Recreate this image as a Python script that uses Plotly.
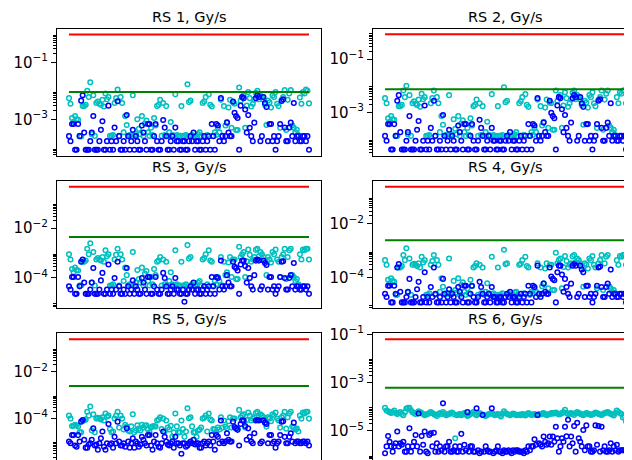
import plotly.graph_objects as go

idx = list(range(80))                      # sample index
idx_mid = [i + 0.5 for i in range(79)]     # in-between samples

rs1_cyan = [5.5e-3, 1.1e-3, 1.3e-3, 9.5e-4, 2.5e-4, 2.9e-3, 1e-2, 2e-2, 7e-3, 3.7e-3,
            3.5e-3, 4.8e-3, 8e-3, 6e-3, 2.6e-4, 3.7e-3, 1.1e-2, 6e-3, 3.5e-4, 6.3e-4,
            2.8e-4, 7e-3, 3e-4, 4.6e-4, 1.3e-3, 7e-4, 3.5e-4, 5e-4, 1.1e-3, 2.9e-3,
            4.8e-3, 3.7e-3, 2.9e-3, 3.5e-4, 2.8e-4, 7.5e-3, 2.6e-4, 2.9e-3, 2.6e-4, 1.7e-2,
            4.5e-3, 2.6e-4, 2.5e-4, 3.5e-4, 3.7e-3, 6e-3, 7.5e-3, 2.8e-3, 3.5e-4, 5e-4,
            4.8e-3, 2.9e-3, 8e-4, 4.8e-3, 3.9e-3, 4.2e-4, 1.3e-2, 6e-3, 5e-4, 9e-3,
            2.8e-3, 4.8e-3, 1e-2, 6.8e-3, 4.8e-3, 6.3e-4, 3.9e-3, 6.8e-3, 9e-3, 2.9e-3,
            4.8e-3, 1.05e-2, 4.8e-3, 1.05e-2, 5e-4, 4.3e-4, 5.8e-3, 9e-3, 1.1e-2, 3.6e-3]
rs1_cyan_mid = [3.5e-3, 8e-4, 1e-3, 2.6e-4, 2.9e-3, 3.2e-3, 6e-3, 3e-4, 2.6e-4, 4.2e-3,
                3.2e-3, 2.8e-3, 5e-3, 2.6e-4, 2.8e-4, 5.5e-3, 2.6e-4, 3.7e-3, 1.3e-3, 2.6e-4,
                2.8e-4, 2.6e-4, 1e-3, 3e-4, 2.6e-4, 9e-4, 2.6e-4, 2.8e-4, 6e-4, 3.2e-3,
                2.6e-4, 2.8e-4, 2.6e-4, 8e-4, 2.6e-4, 2.8e-4, 2.6e-4, 2.6e-4, 2.8e-4, 4e-3,
                2.8e-4, 2.6e-4, 3e-4, 2.6e-4, 4.2e-3, 2.8e-4, 3.2e-3, 2.6e-4, 2.8e-4, 3.5e-4,
                2.6e-4, 6e-4, 2.6e-3, 5e-4, 3.5e-3, 4.2e-4, 4.5e-3, 7e-3, 3e-3, 5.5e-3,
                3.5e-3, 8.5e-3, 5e-3, 6e-3, 3.2e-3, 4.5e-3, 2.6e-3, 6e-3, 3.5e-3, 5e-4,
                6e-3, 4.2e-4, 8e-3, 6e-4, 3.5e-4, 2.8e-4, 3.5e-3, 8e-3, 1e-2]
rs1_blue = [2.55e-4, 6.8e-4, 8.5e-5, 6.8e-4, 4.5e-3, 3.4e-4, 8.5e-5, 1.7e-4, 1.3e-3, 8.5e-5,
            1.7e-4, 8.5e-4, 8.5e-5, 3e-3, 1.7e-4, 5.1e-4, 4.3e-3, 8.5e-5, 1.7e-4, 1.4e-3,
            8.5e-5, 4.25e-4, 2.55e-4, 8.5e-5, 6e-4, 1.7e-4, 6.8e-4, 8.5e-5, 2.55e-4, 1.7e-4,
            8.5e-5, 9.4e-4, 2.55e-4, 8.5e-5, 2.55e-4, 5.1e-4, 1.7e-4, 8.5e-5, 1.7e-4, 8.5e-5,
            2.55e-4, 3.4e-4, 1.7e-4, 8.5e-5, 1.7e-4, 8.5e-5, 2.55e-4, 6.8e-4, 8.5e-5, 6e-4,
            5.5e-3, 1.7e-4, 7.6e-4, 2.55e-4, 4.2e-3, 1.3e-3, 8.5e-5, 6e-3, 2.2e-3, 1.4e-3,
            2.55e-4, 7.6e-4, 7e-3, 1.7e-4, 6e-3, 2.7e-3, 6.8e-4, 1.7e-4, 8.5e-5, 2.55e-4,
            4.4e-3, 5.1e-4, 1.7e-4, 7.6e-4, 3.7e-3, 2.55e-4, 1.7e-4, 2.55e-4, 1.7e-4, 8.5e-5]
rs1_blue_mid = [1.7e-4, 6.8e-4, 8.5e-5, 2.55e-4, 7e-3, 8.5e-5, 8.5e-5, 3.4e-4, 8.5e-5, 8.5e-5,
                4.25e-4, 8.5e-5, 1.7e-4, 8.5e-5, 8.5e-5, 1.7e-4, 2.55e-4, 8.5e-5, 8.5e-5, 2.55e-4,
                1.7e-4, 8.5e-5, 1.7e-4, 8.5e-5, 3.4e-4, 8.5e-5, 6.8e-4, 8.5e-5, 6.8e-4, 8.5e-5,
                1.7e-4, 5.1e-4, 8.5e-5, 1.7e-4, 8.5e-5, 1.7e-4, 8.5e-5, 1.7e-4, 8.5e-5, 1.7e-4,
                1.7e-4, 8.5e-5, 1.7e-4, 8.5e-5, 2.55e-4, 1.7e-4, 8.5e-5, 2.55e-4, 6.8e-4, 1.7e-4,
                2.55e-4, 2.55e-4, 3.4e-4, 2.55e-4, 1.7e-3, 1.1e-3, 3e-3, 5.5e-3, 3.4e-4, 5e-4,
                1.7e-4, 5.5e-3, 6e-3, 2.55e-4, 3.7e-3, 1.7e-4, 6.8e-4, 2.55e-4, 1.7e-4, 6.8e-4,
                5e-3, 1.7e-4, 5.1e-4, 2.55e-4, 1.7e-4, 2.55e-4, 1.7e-4, 2.55e-4, 2.55e-4]

rs2_cyan = [3.4e-3, 6e-4, 7.2e-4, 5.2e-4, 1.3e-4, 1.7e-3, 6.6e-3, 1e-2, 4.4e-3, 2.2e-3,
            2.1e-3, 3e-3, 5e-3, 3.7e-3, 1.3e-4, 2.2e-3, 6.6e-3, 3.7e-3, 1.8e-4, 3.4e-4,
            1.4e-4, 4.4e-3, 1.5e-4, 2.4e-4, 7.2e-4, 3.8e-4, 1.8e-4, 2.6e-4, 6e-4, 1.7e-3,
            3e-3, 2.2e-3, 1.7e-3, 1.8e-4, 1.4e-4, 4.8e-3, 1.3e-4, 1.7e-3, 1.3e-4, 8.7e-3,
            2.7e-3, 1.3e-4, 1.3e-4, 1.8e-4, 2.2e-3, 3.7e-3, 4.8e-3, 1.6e-3, 1.8e-4, 2.6e-4,
            3e-3, 1.7e-3, 4.4e-4, 3e-3, 2.3e-3, 2.2e-4, 6.6e-3, 3.7e-3, 2.6e-4, 5.7e-3,
            1.6e-3, 3e-3, 6.6e-3, 4.4e-3, 3e-3, 3.4e-4, 2.3e-3, 4.4e-3, 5.7e-3, 1.7e-3,
            3e-3, 6.6e-3, 3e-3, 6.6e-3, 2.6e-4, 2.2e-4, 3.7e-3, 5.7e-3, 6.6e-3, 2.2e-3]
rs2_cyan_mid = [2.2e-3, 4.4e-4, 5.5e-4, 1.3e-4, 1.7e-3, 1.9e-3, 3.7e-3, 1.5e-4, 1.3e-4, 2.6e-3,
                1.9e-3, 1.6e-3, 3.1e-3, 1.3e-4, 1.4e-4, 3.4e-3, 1.3e-4, 2.2e-3, 7.2e-4, 1.3e-4,
                1.4e-4, 1.3e-4, 5.5e-4, 1.5e-4, 1.3e-4, 5e-4, 1.3e-4, 1.4e-4, 3.2e-4, 1.9e-3,
                1.3e-4, 1.4e-4, 1.3e-4, 4.4e-4, 1.3e-4, 1.4e-4, 1.3e-4, 1.3e-4, 1.4e-4, 2.4e-3,
                1.4e-4, 1.3e-4, 1.5e-4, 1.3e-4, 2.6e-3, 1.4e-4, 1.9e-3, 1.3e-4, 1.4e-4, 1.8e-4,
                1.3e-4, 3.2e-4, 1.5e-3, 2.6e-4, 2.2e-3, 2.2e-4, 2.7e-3, 4.4e-3, 1.8e-3, 3.4e-3,
                2.2e-3, 5.4e-3, 3.1e-3, 3.7e-3, 1.9e-3, 2.7e-3, 1.5e-3, 3.7e-3, 2.2e-3, 2.6e-4,
                3.7e-3, 2.2e-4, 5e-3, 3.2e-4, 1.8e-4, 1.4e-4, 2.2e-3, 5e-3, 6.6e-3]
rs2_blue = [1.3e-4, 3.6e-4, 4e-5, 3.6e-4, 2.7e-3, 1.8e-4, 4e-5, 8.5e-5, 7.2e-4, 4e-5,
            8.5e-5, 4.7e-4, 4e-5, 1.8e-3, 8.5e-5, 2.6e-4, 2.7e-3, 4e-5, 8.5e-5, 7.9e-4,
            4e-5, 2.2e-4, 1.3e-4, 4e-5, 3.2e-4, 8.5e-5, 3.6e-4, 4e-5, 1.3e-4, 8.5e-5,
            4e-5, 5.2e-4, 1.3e-4, 4e-5, 1.3e-4, 2.6e-4, 8.5e-5, 4e-5, 8.5e-5, 4e-5,
            1.3e-4, 1.8e-4, 8.5e-5, 4e-5, 8.5e-5, 4e-5, 1.3e-4, 3.6e-4, 4e-5, 3.2e-4,
            3.4e-3, 8.5e-5, 4.1e-4, 1.3e-4, 2.7e-3, 7.2e-4, 4e-5, 3.7e-3, 1.3e-3, 7.9e-4,
            1.3e-4, 4.1e-4, 4.4e-3, 8.5e-5, 3.7e-3, 1.6e-3, 3.6e-4, 8.5e-5, 4e-5, 1.3e-4,
            2.7e-3, 2.6e-4, 8.5e-5, 4.1e-4, 2.2e-3, 1.3e-4, 8.5e-5, 1.3e-4, 8.5e-5, 4e-5]
rs2_blue_mid = [8.5e-5, 3.6e-4, 4e-5, 1.3e-4, 4.4e-3, 4e-5, 4e-5, 1.8e-4, 4e-5, 4e-5,
                2.2e-4, 4e-5, 8.5e-5, 4e-5, 4e-5, 8.5e-5, 1.3e-4, 4e-5, 4e-5, 1.3e-4,
                8.5e-5, 4e-5, 8.5e-5, 4e-5, 1.8e-4, 4e-5, 3.6e-4, 4e-5, 3.6e-4, 4e-5,
                8.5e-5, 2.6e-4, 4e-5, 8.5e-5, 4e-5, 8.5e-5, 4e-5, 8.5e-5, 4e-5, 8.5e-5,
                8.5e-5, 4e-5, 8.5e-5, 4e-5, 1.3e-4, 8.5e-5, 4e-5, 1.3e-4, 3.6e-4, 8.5e-5,
                1.3e-4, 1.3e-4, 1.8e-4, 1.3e-4, 9.5e-4, 6e-4, 1.8e-3, 3.4e-3, 1.8e-4, 2.6e-4,
                8.5e-5, 3.4e-3, 3.7e-3, 1.3e-4, 2.2e-3, 8.5e-5, 3.6e-4, 1.3e-4, 8.5e-5, 3.6e-4,
                3.1e-3, 8.5e-5, 2.6e-4, 1.3e-4, 8.5e-5, 1.3e-4, 8.5e-5, 1.3e-4, 1.3e-4]

rs3_cyan = [9e-4, 2.3e-4, 2.6e-4, 2e-4, 5e-5, 4.5e-4, 1.5e-3, 2.5e-3, 1.1e-3, 5.5e-4,
            5.5e-4, 7e-4, 1.3e-3, 9e-4, 5e-5, 5.5e-4, 1.5e-3, 9e-4, 7.5e-5, 1.3e-4,
            5.5e-5, 1.1e-3, 6.5e-5, 9e-5, 2.6e-4, 1.5e-4, 7.5e-5, 1.1e-4, 2.3e-4, 4.5e-4,
            7e-4, 5.5e-4, 4.5e-4, 7.5e-5, 5.5e-5, 1.3e-3, 5e-5, 4.5e-4, 5e-5, 2.1e-3,
            7e-4, 5e-5, 5e-5, 7.5e-5, 5.5e-4, 9e-4, 1.3e-3, 4.5e-4, 7.5e-5, 1.1e-4,
            7e-4, 4.5e-4, 1.7e-4, 7e-4, 5.5e-4, 9e-5, 1.8e-3, 9e-4, 1.1e-4, 1.4e-3,
            4.5e-4, 7e-4, 1.5e-3, 1.1e-3, 7e-4, 1.3e-4, 5.5e-4, 1.1e-3, 1.4e-3, 4.5e-4,
            7e-4, 1.5e-3, 7e-4, 1.5e-3, 1.1e-4, 9e-5, 9e-4, 1.4e-3, 1.5e-3, 5.5e-4]
rs3_cyan_mid = [5.5e-4, 1.7e-4, 2.1e-4, 5e-5, 4.5e-4, 5e-4, 9e-4, 6.5e-5, 5e-5, 6.3e-4,
                5e-4, 4.5e-4, 7.5e-4, 5e-5, 5.5e-5, 8.5e-4, 5e-5, 5.5e-4, 2.6e-4, 5e-5,
                5.5e-5, 5e-5, 2.1e-4, 6.5e-5, 5e-5, 1.9e-4, 5e-5, 5.5e-5, 1.3e-4, 5e-4,
                5e-5, 5.5e-5, 5e-5, 1.7e-4, 5e-5, 5.5e-5, 5e-5, 5e-5, 5.5e-5, 6e-4,
                5.5e-5, 5e-5, 6.5e-5, 5e-5, 6.3e-4, 5.5e-5, 5e-4, 5e-5, 5.5e-5, 7.5e-5,
                5e-5, 1.3e-4, 4.2e-4, 1.1e-4, 5.5e-4, 9e-5, 7e-4, 1.1e-3, 4.7e-4, 8.5e-4,
                5.5e-4, 1.35e-3, 7.5e-4, 9e-4, 5e-4, 7e-4, 4.2e-4, 9e-4, 5.5e-4, 1.1e-4,
                9e-4, 9e-5, 1.3e-3, 1.3e-4, 7.5e-5, 5.5e-5, 5.5e-4, 1.3e-3, 1.5e-3]
rs3_blue = [4.6e-5, 1.1e-4, 2.3e-5, 1.1e-4, 4.5e-4, 6.5e-5, 2.3e-5, 3.4e-5, 2.5e-4, 2.3e-5,
            3.4e-5, 1.6e-4, 2.3e-5, 3.5e-4, 3.4e-5, 1e-4, 4.5e-4, 2.3e-5, 3.4e-5, 2.5e-4,
            2.3e-5, 8e-5, 4.6e-5, 2.3e-5, 1e-4, 3.4e-5, 1.1e-4, 2.3e-5, 4.6e-5, 3.4e-5,
            2.3e-5, 1.6e-4, 4.6e-5, 2.3e-5, 4.6e-5, 1e-4, 3.4e-5, 2.3e-5, 1.1e-5, 2.3e-5,
            4.6e-5, 6.5e-5, 3.4e-5, 2.3e-5, 3.4e-5, 2.3e-5, 4.6e-5, 1.1e-4, 2.3e-5, 1e-4,
            5e-4, 3.4e-5, 1.3e-4, 4.6e-5, 4.5e-4, 2.5e-4, 2.3e-5, 5e-4, 3e-4, 2.5e-4,
            4.6e-5, 1.3e-4, 5.5e-4, 3.4e-5, 5e-4, 3.3e-4, 1.1e-4, 3.4e-5, 2.3e-5, 4.6e-5,
            4.5e-4, 1e-4, 3.4e-5, 1.3e-4, 4e-4, 4.6e-5, 3.4e-5, 4.6e-5, 3.4e-5, 2.3e-5]
rs3_blue_mid = [3.4e-5, 1.1e-4, 2.3e-5, 4.6e-5, 5.5e-4, 2.3e-5, 2.3e-5, 6.5e-5, 2.3e-5, 2.3e-5,
                8e-5, 2.3e-5, 3.4e-5, 2.3e-5, 2.3e-5, 3.4e-5, 4.6e-5, 2.3e-5, 2.3e-5, 4.6e-5,
                3.4e-5, 2.3e-5, 3.4e-5, 2.3e-5, 6.5e-5, 2.3e-5, 1.1e-4, 2.3e-5, 1.1e-4, 2.3e-5,
                3.4e-5, 1e-4, 2.3e-5, 3.4e-5, 2.3e-5, 3.4e-5, 2.3e-5, 3.4e-5, 2.3e-5, 3.4e-5,
                3.4e-5, 2.3e-5, 3.4e-5, 2.3e-5, 4.6e-5, 3.4e-5, 2.3e-5, 4.6e-5, 1.1e-4, 3.4e-5,
                4.6e-5, 4.6e-5, 6.5e-5, 4.6e-5, 2.8e-4, 2e-4, 3.5e-4, 5e-4, 6.5e-5, 1e-4,
                3.4e-5, 5e-4, 5e-4, 4.6e-5, 4e-4, 3.4e-5, 1.1e-4, 4.6e-5, 3.4e-5, 1.1e-4,
                4.7e-4, 3.4e-5, 1e-4, 4.6e-5, 3.4e-5, 4.6e-5, 3.4e-5, 4.6e-5, 4.6e-5]

rs4_cyan = [4.5e-4, 8.3e-5, 9.5e-5, 7e-5, 2.3e-5, 2.4e-4, 7e-4, 1.25e-3, 5.2e-4, 3e-4,
            3e-4, 3.4e-4, 6e-4, 4.5e-4, 2.3e-5, 3e-4, 7e-4, 4.5e-4, 3e-5, 4.6e-5,
            2.6e-5, 5.2e-4, 2.8e-5, 3.5e-5, 9.5e-5, 5.3e-5, 3e-5, 4e-5, 8.3e-5, 2.4e-4,
            3.4e-4, 3e-4, 2.4e-4, 3e-5, 2.6e-5, 6e-4, 2.3e-5, 2.4e-4, 2.3e-5, 1.1e-3,
            3.4e-4, 2.3e-5, 2.3e-5, 3e-5, 3e-4, 4.5e-4, 6e-4, 2.4e-4, 3e-5, 4e-5,
            3.4e-4, 2.4e-4, 6.2e-5, 3.4e-4, 3e-4, 3.5e-5, 8.5e-4, 4.5e-4, 4e-5, 6.4e-4,
            2.4e-4, 3.4e-4, 7e-4, 5.2e-4, 3.4e-4, 4.6e-5, 3e-4, 5.2e-4, 6.4e-4, 2.4e-4,
            3.4e-4, 7e-4, 3.4e-4, 7e-4, 4e-5, 3.5e-5, 4.5e-4, 6.4e-4, 7e-4, 3e-4]
rs4_cyan_mid = [3e-4, 6.2e-5, 7.6e-5, 2.3e-5, 2.4e-4, 2.7e-4, 4.5e-4, 2.8e-5, 2.3e-5, 3.3e-4,
                2.7e-4, 2.4e-4, 3.7e-4, 2.3e-5, 2.6e-5, 4.2e-4, 2.3e-5, 3e-4, 9.5e-5, 2.3e-5,
                2.6e-5, 2.3e-5, 7.6e-5, 2.8e-5, 2.3e-5, 6.8e-5, 2.3e-5, 2.6e-5, 4.8e-5, 2.7e-4,
                2.3e-5, 2.6e-5, 2.3e-5, 6.2e-5, 2.3e-5, 2.6e-5, 2.3e-5, 2.3e-5, 2.6e-5, 3.2e-4,
                2.6e-5, 2.3e-5, 2.8e-5, 2.3e-5, 3.3e-4, 2.6e-5, 2.7e-4, 2.3e-5, 2.6e-5, 3e-5,
                2.3e-5, 4.8e-5, 2.2e-4, 4e-5, 3e-4, 3.5e-5, 3.4e-4, 5.2e-4, 2.5e-4, 4.2e-4,
                3e-4, 6.2e-4, 3.7e-4, 4.5e-4, 2.7e-4, 3.4e-4, 2.2e-4, 4.5e-4, 3e-4, 4e-5,
                4.5e-4, 3.5e-5, 6e-4, 4.8e-5, 3e-5, 2.6e-5, 3e-4, 6e-4, 7e-4]
rs4_blue = [2.5e-5, 5e-5, 1.2e-5, 5e-5, 2.4e-4, 3e-5, 1.2e-5, 1.9e-5, 9e-5, 1.2e-5,
            1.9e-5, 7e-5, 1.2e-5, 1.6e-4, 1.9e-5, 4.5e-5, 2.4e-4, 1.2e-5, 1.9e-5, 9e-5,
            1.2e-5, 3.7e-5, 2.5e-5, 1.2e-5, 4.5e-5, 1.9e-5, 5e-5, 1.2e-5, 2.5e-5, 1.9e-5,
            1.2e-5, 7e-5, 2.5e-5, 1.2e-5, 2.5e-5, 4.5e-5, 1.9e-5, 1.2e-5, 1.9e-5, 1.2e-5,
            2.5e-5, 3e-5, 1.9e-5, 1.2e-5, 1.9e-5, 1.2e-5, 2.5e-5, 5e-5, 1.2e-5, 4.5e-5,
            2.8e-4, 1.9e-5, 6e-5, 2.5e-5, 2.4e-4, 9e-5, 1.2e-5, 2.8e-4, 1.3e-4, 9e-5,
            2.5e-5, 6e-5, 3.2e-4, 1.9e-5, 2.8e-4, 1.6e-4, 5e-5, 1.9e-5, 1.2e-5, 2.5e-5,
            2.4e-4, 4.5e-5, 1.9e-5, 6e-5, 2e-4, 2.5e-5, 1.9e-5, 2.5e-5, 1.9e-5, 1.2e-5]
rs4_blue_mid = [1.9e-5, 5e-5, 1.2e-5, 2.5e-5, 3.2e-4, 1.2e-5, 1.2e-5, 3e-5, 1.2e-5, 1.2e-5,
                3.7e-5, 1.2e-5, 1.9e-5, 1.2e-5, 1.2e-5, 1.9e-5, 2.5e-5, 1.2e-5, 1.2e-5, 2.5e-5,
                1.9e-5, 1.2e-5, 1.9e-5, 1.2e-5, 3e-5, 1.2e-5, 5e-5, 1.2e-5, 5e-5, 1.2e-5,
                1.9e-5, 4.5e-5, 1.2e-5, 1.9e-5, 1.2e-5, 1.9e-5, 1.2e-5, 1.9e-5, 1.2e-5, 1.9e-5,
                1.9e-5, 1.2e-5, 1.9e-5, 1.2e-5, 2.5e-5, 1.9e-5, 1.2e-5, 2.5e-5, 5e-5, 1.9e-5,
                2.5e-5, 2.5e-5, 3e-5, 2.5e-5, 1.1e-4, 8e-5, 1.6e-4, 2.8e-4, 3e-5, 4.5e-5,
                1.9e-5, 2.8e-4, 2.8e-4, 2.5e-5, 2e-4, 1.9e-5, 5e-5, 2.5e-5, 1.9e-5, 5e-5,
                2.6e-4, 1.9e-5, 4.5e-5, 2.5e-5, 1.9e-5, 2.5e-5, 1.9e-5, 2.5e-5, 2.5e-5]

rs5_cyan = [1.3e-4, 4.7e-5, 5.2e-5, 4.4e-5, 2.5e-5, 8e-5, 1.9e-4, 3.2e-4, 1.5e-4, 9.7e-5,
            9.7e-5, 1.1e-4, 1.6e-4, 1.3e-4, 2.5e-5, 9.7e-5, 1.9e-4, 1.3e-4, 3.3e-5, 4.4e-5,
            2.7e-5, 1.5e-4, 3e-5, 3.6e-5, 5.2e-5, 4.8e-5, 3.3e-5, 4e-5, 4.7e-5, 8e-5,
            1.1e-4, 9.7e-5, 8e-5, 3.3e-5, 1.6e-5, 1.6e-4, 2.5e-5, 8e-5, 1.6e-5, 2.7e-4,
            1.1e-4, 2.5e-5, 1.6e-5, 3.3e-5, 9.7e-5, 1.3e-4, 1.6e-4, 8e-5, 3.3e-5, 4e-5,
            1.1e-4, 8e-5, 3.7e-5, 1.1e-4, 9.7e-5, 3.6e-5, 2.3e-4, 1.3e-4, 4e-5, 1.75e-4,
            8e-5, 1.1e-4, 1.9e-4, 1.5e-4, 1.1e-4, 4.4e-5, 9.7e-5, 1.5e-4, 1.75e-4, 8e-5,
            1.1e-4, 1.9e-4, 1.1e-4, 1.9e-4, 4e-5, 3.6e-5, 1.3e-4, 1.75e-4, 1.9e-4, 9.7e-5]
rs5_cyan_mid = [9.7e-5, 4.8e-5, 5e-5, 2.5e-5, 8e-5, 9e-5, 1.3e-4, 3e-5, 2.5e-5, 1.05e-4,
                9e-5, 8e-5, 1.2e-4, 3.5e-5, 2.7e-5, 1.3e-4, 4e-5, 9.7e-5, 5.2e-5, 3e-5,
                4.5e-5, 2.5e-5, 5e-5, 3e-5, 4e-5, 5e-5, 2.5e-5, 4.5e-5, 4.4e-5, 9e-5,
                3.5e-5, 2.7e-5, 4e-5, 4.8e-5, 2.5e-5, 4.5e-5, 2.5e-5, 3.5e-5, 2.7e-5, 1e-4,
                4.5e-5, 2.5e-5, 3e-5, 4e-5, 1.05e-4, 2.7e-5, 9e-5, 3.5e-5, 2.7e-5, 3.3e-5,
                4e-5, 4.4e-5, 7.5e-5, 4e-5, 9.7e-5, 3.6e-5, 1.1e-4, 1.5e-4, 8.5e-5, 1.3e-4,
                9.7e-5, 1.7e-4, 1.2e-4, 1.3e-4, 9e-5, 1.1e-4, 7.5e-5, 1.3e-4, 9.7e-5, 4e-5,
                1.3e-4, 3.6e-5, 1.6e-4, 4.4e-5, 3.3e-5, 2.7e-5, 9.7e-5, 1.6e-4, 1.9e-4]
rs5_blue = [1e-5, 1.9e-5, 6.8e-6, 1.9e-5, 7.2e-5, 1.2e-5, 5.5e-6, 8.5e-6, 3.7e-5, 7.5e-6,
            8.5e-6, 2.7e-5, 4.5e-6, 5.7e-5, 8.5e-6, 1.6e-5, 7.2e-5, 6.8e-6, 8.5e-6, 3.7e-5,
            5.5e-6, 1.4e-5, 1e-5, 6e-6, 1.6e-5, 8.5e-6, 1.9e-5, 6.8e-6, 1e-5, 8.5e-6,
            5.5e-6, 2.7e-5, 1e-5, 6.8e-6, 1e-5, 1.6e-5, 8.5e-6, 3e-6, 8.5e-6, 6.8e-6,
            1e-5, 1.2e-5, 8.5e-6, 5.5e-6, 8.5e-6, 6.8e-6, 1e-5, 1.9e-5, 4.5e-6, 1.6e-5,
            8e-5, 8.5e-6, 2.3e-5, 1e-5, 7.2e-5, 3.7e-5, 6.8e-6, 8e-5, 4.7e-5, 3.7e-5,
            1e-5, 2.3e-5, 8.5e-5, 8.5e-6, 8e-5, 5.7e-5, 1.9e-5, 8.5e-6, 5.5e-6, 1e-5,
            7.2e-5, 1.6e-5, 8.5e-6, 2.3e-5, 6.5e-5, 1e-5, 8.5e-6, 1e-5, 8.5e-6, 6.8e-6]
rs5_blue_mid = [8.5e-6, 1.9e-5, 6e-6, 1e-5, 8.5e-5, 5.5e-6, 7.5e-6, 1.2e-5, 6.8e-6, 4.5e-6,
                1.4e-5, 6e-6, 8.5e-6, 7.5e-6, 5.5e-6, 8.5e-6, 1e-5, 6.8e-6, 6e-6, 1e-5,
                8.5e-6, 5.5e-6, 8.5e-6, 7.5e-6, 1.2e-5, 6.8e-6, 1.9e-5, 4.5e-6, 1.9e-5, 6e-6,
                8.5e-6, 1.6e-5, 7.5e-6, 8.5e-6, 5.5e-6, 8.5e-6, 6.8e-6, 8.5e-6, 6e-6, 8.5e-6,
                8.5e-6, 7.5e-6, 8.5e-6, 5.5e-6, 1e-5, 8.5e-6, 6.8e-6, 1e-5, 1.9e-5, 8.5e-6,
                1e-5, 1e-5, 1.2e-5, 1e-5, 4.2e-5, 3.2e-5, 5.7e-5, 8e-5, 1.2e-5, 1.6e-5,
                8.5e-6, 8e-5, 8e-5, 1e-5, 6.5e-5, 8.5e-6, 1.9e-5, 1e-5, 8.5e-6, 1.9e-5,
                7.5e-5, 8.5e-6, 1.6e-5, 1e-5, 8.5e-6, 1e-5, 8.5e-6, 1e-5, 1e-5]

rs6_cyan = [9e-5, 6.5e-5, 5.5e-5, 7e-5, 5e-5, 6e-5, 4.5e-5, 8.5e-5, 9e-5, 6e-5,
            5e-5, 6.5e-5, 5.5e-5, 4.5e-5, 5e-5, 6e-5, 5e-5, 4.2e-5, 5.5e-5, 6e-5,
            4.5e-5, 5e-5, 5.8e-5, 5e-6, 4.8e-5, 4.5e-5, 5.5e-5, 4.2e-5, 5e-5, 6e-5,
            4.5e-5, 5.5e-5, 4.8e-5, 4.2e-5, 5e-5, 5.5e-5, 4.5e-5, 5e-5, 4e-5, 6.5e-5,
            5e-5, 4.5e-5, 5.2e-5, 4.5e-5, 4.8e-5, 5e-5, 4.4e-5, 5.5e-5, 4.6e-5, 5e-5,
            4.5e-5, 4.8e-5, 5.5e-5, 4.5e-5, 5e-5, 5.2e-5, 5.8e-5, 4.8e-5, 5.5e-5, 7.5e-5,
            5e-5, 5.5e-5, 4.6e-5, 6e-5, 5.2e-5, 4.5e-5, 5.5e-5, 5e-5, 4.8e-5, 5.8e-5,
            5e-5, 4.6e-5, 5.5e-5, 6e-5, 5e-5, 4.4e-5, 7e-5, 5.5e-5, 3.6e-5, 2.5e-5]
rs6_cyan_mid = [7e-5, 6e-5, 6e-5, 5.5e-5, 5.5e-5, 5e-5, 6e-5, 9e-5, 7e-5, 5.5e-5,
                5.8e-5, 6e-5, 5e-5, 4.8e-5, 5.5e-5, 5.5e-5, 4.6e-5, 5e-5, 5e-5, 5.2e-5,
                4.8e-5, 5.5e-5, 5e-5, 4.5e-5, 5e-5, 5e-5, 4.8e-5, 4.5e-5, 5.5e-5, 5e-5,
                5e-5, 5e-5, 4.5e-5, 4.6e-5, 5.2e-5, 5e-5, 4.8e-5, 4.5e-5, 5.2e-5, 5.5e-5,
                4.8e-5, 4.8e-5, 5e-5, 4.6e-5, 4.5e-5, 4.8e-5, 5e-5, 5e-5, 4.8e-5, 4.6e-5,
                5e-5, 5.2e-5, 5e-5, 4.8e-5, 5.5e-5, 5.5e-5, 5.2e-5, 5e-5, 6e-5, 5.5e-5,
                5.2e-5, 5e-5, 5.5e-5, 5.5e-5, 4.8e-5, 5e-5, 5.2e-5, 4.6e-5, 5.2e-5, 5.5e-5,
                4.8e-5, 5e-5, 5.8e-5, 5.5e-5, 4.8e-5, 5.5e-5, 6e-5, 5e-5, 4.2e-5]
rs6_blue = [1.2e-6, 6.2e-6, 2.3e-6, 2.3e-6, 9.5e-6, 3.1e-6, 3.6e-6, 1.4e-6, 1.3e-5, 2.3e-6,
            6.8e-6, 5.3e-5, 6.2e-6, 9.5e-6, 1.2e-6, 8e-6, 8.5e-6, 3.1e-6, 2.3e-6, 1.4e-4,
            2.3e-6, 3.6e-6, 1.4e-6, 2.3e-6, 1.4e-6, 7.6e-6, 2.7e-6, 6e-5, 2.3e-6, 1.4e-6,
            8.7e-5, 1.2e-6, 4.6e-5, 2.3e-6, 1.4e-6, 8.7e-5, 1.4e-6, 2.3e-6, 1.4e-6, 1.6e-6,
            1.4e-6, 1.4e-6, 1.6e-6, 1.6e-6, 1.4e-6, 1.4e-6, 1.6e-6, 2.3e-6, 2.3e-6, 4.5e-6,
            4.6e-5, 2.7e-6, 5.9e-6, 2.7e-6, 5.9e-6, 5.9e-6, 1.5e-5, 1.4e-6, 5e-6, 1.5e-5,
            2.9e-5, 5.9e-6, 1.6e-5, 2.2e-5, 3.6e-6, 1.1e-5, 1.7e-5, 2.3e-6, 1.4e-6, 1.7e-5,
            1.6e-5, 1.5e-5, 2.3e-6, 1.4e-6, 3.1e-6, 2.3e-6, 2.7e-6, 1.6e-6, 1.6e-6, 1.6e-6]
rs6_blue_mid = [2.3e-6, 3.6e-6, 1.4e-6, 3.1e-6, 2.3e-6, 2.7e-6, 1.4e-6, 2.3e-6, 1.4e-6, 3.6e-6,
                2.3e-6, 1.4e-6, 2.7e-6, 1.4e-6, 6.8e-6, 2.3e-6, 1.4e-6, 1.4e-6, 1.6e-6, 1.4e-6,
                2.3e-6, 1.4e-6, 1.6e-6, 1.4e-6, 2.3e-6, 1.4e-6, 1.6e-6, 1.4e-6, 2.3e-6, 1.4e-6,
                1.6e-6, 1.4e-6, 1.4e-6, 1.6e-6, 1.4e-6, 1.2e-6, 1.6e-6, 1.4e-6, 1.2e-6, 1.4e-6,
                1.6e-6, 1.2e-6, 1.4e-6, 1.6e-6, 1.4e-6, 1.2e-6, 1.4e-6, 1.6e-6, 2.3e-6, 2.7e-6,
                3.1e-6, 2.3e-6, 3.6e-6, 3.1e-6, 2.7e-6, 3.6e-6, 5e-6, 2.3e-6, 3.6e-6, 6e-6,
                2.3e-6, 3.1e-6, 1.4e-6, 5e-6, 2.3e-6, 1.6e-6, 2.3e-6, 1.4e-6, 1.6e-6, 2.7e-6,
                1.4e-6, 1.6e-6, 1.4e-6, 1.6e-6, 1.4e-6, 1.6e-6, 1.4e-6, 1.6e-6, 1.6e-6]

titles = ["RS 1, Gy/s", "RS 2, Gy/s", "RS 3, Gy/s", "RS 4, Gy/s", "RS 5, Gy/s", "RS 6, Gy/s"]
red_limits = [0.95, 0.86, 0.47, 0.245, 0.245, 0.062]
green_limits = [9e-3, 7.4e-3, 4.4e-3, 2.5e-3, 2.45e-3, 6.2e-4]
cyan_series = [(rs1_cyan, rs1_cyan_mid), (rs2_cyan, rs2_cyan_mid), (rs3_cyan, rs3_cyan_mid),
               (rs4_cyan, rs4_cyan_mid), (rs5_cyan, rs5_cyan_mid), (rs6_cyan, rs6_cyan_mid)]
blue_series = [(rs1_blue, rs1_blue_mid), (rs2_blue, rs2_blue_mid), (rs3_blue, rs3_blue_mid),
               (rs4_blue, rs4_blue_mid), (rs5_blue, rs5_blue_mid), (rs6_blue, rs6_blue_mid)]
labeled_decades = [[-1, -3], [-1, -3], [-2, -4], [-2, -4], [-2, -4], [-1, -3, -5]]

# ---- layout: the page body adds an 8 px margin, so the figure is 8 px smaller
# and all reference pixel positions are shifted by -8.
OFF = 8
W, H = 632 - OFF, 460 - OFF
y_ranges = [[-4.28, 0.18], [-4.63, 0.14], [-5.22, -0.10], [-5.14, -0.40], [-5.79, -0.35], [-6.20, -0.96]]


def px(xr):
    return (xr - OFF) / W


def py(yr):
    return 1 - (yr - OFF) / H


col_dom = [[px(57), px(321)], [px(373), 1.0]]
col_xrange = [[-3.95, 82.95], [-3.95, 80.97]]
row_dom = [[py(155.7), py(28.7)], [py(308.3), py(181)], [0.0, py(333.3)]]
title_y = [1.0, py(166.7), py(319.3)]
title_anchor = ["top", "middle", "middle"]
title_x = [px(189), px(505.5)]

FONT = "DejaVu Sans"
CYAN = "#00BFBF"
BLUE = "#0000FF"

fig = go.Figure()
layout = dict(template="none", width=W, height=H,
              margin=dict(l=0, r=0, t=0, b=0, pad=0, autoexpand=False),
              paper_bgcolor="white", plot_bgcolor="white", showlegend=False,
              font=dict(family=FONT, size=14, color="black"))
annotations = []

for p in range(6):
    r, c = divmod(p, 2)
    n = p + 1
    xa = "x" if n == 1 else f"x{n}"
    ya = "y" if n == 1 else f"y{n}"
    marker_common = dict(symbol="circle-open", size=4.6)
    cy_main, cy_mid = cyan_series[p]
    bl_main, bl_mid = blue_series[p]
    fig.add_trace(go.Scatter(x=idx + idx_mid, y=cy_main + cy_mid, mode="markers", xaxis=xa, yaxis=ya,
                             marker=dict(color=CYAN, line=dict(color=CYAN, width=1.5), **marker_common)))
    fig.add_trace(go.Scatter(x=idx + idx_mid, y=bl_main + bl_mid, mode="markers", xaxis=xa, yaxis=ya,
                             marker=dict(color=BLUE, line=dict(color=BLUE, width=1.5), **marker_common)))
    fig.add_trace(go.Scatter(x=[idx[0], idx[-1]], y=[red_limits[p]] * 2, mode="lines", xaxis=xa, yaxis=ya,
                             line=dict(color="#FF0000", width=2)))
    fig.add_trace(go.Scatter(x=[idx[0], idx[-1]], y=[green_limits[p]] * 2, mode="lines", xaxis=xa, yaxis=ya,
                             line=dict(color="#008000", width=2)))

    labs = labeled_decades[p]
    tickvals = [10.0 ** d for d in labs]
    ticktext = [f"10<sup>\u2212{-d}</sup>" for d in labs]
    minor_vals = [k * 10.0 ** d for d in labs + [labs[-1] - 2, labs[0] + 2] for k in range(2, 10)]

    layout["xaxis" if n == 1 else f"xaxis{n}"] = dict(
        domain=col_dom[c], range=col_xrange[c], anchor=ya, automargin=False,
        showline=True, mirror=True, linecolor="black", linewidth=1,
        showticklabels=False, ticks="", showgrid=False, zeroline=False)
    layout["yaxis" if n == 1 else f"yaxis{n}"] = dict(
        type="log", domain=row_dom[r], range=y_ranges[p], anchor=xa, automargin=False,
        showline=True, mirror=(c == 0), linecolor="black", linewidth=1,
        tickmode="array", tickvals=tickvals, ticktext=ticktext,
        ticks="outside", ticklen=5, tickwidth=1, tickcolor="black",
        tickfont=dict(family=FONT, size=15, color="black"),
        minor=dict(tickmode="array", tickvals=minor_vals, ticks="outside",
                   ticklen=3, tickwidth=0.8, tickcolor="black", showgrid=False),
        showgrid=False, zeroline=False)
    annotations.append(dict(text=titles[p], x=title_x[c], y=title_y[r], xref="paper", yref="paper",
                            xanchor="center", yanchor=title_anchor[r], showarrow=False, borderpad=0,
                            font=dict(family=FONT, size=14.5, color="black")))

layout["annotations"] = annotations
fig.update_layout(**layout)
fig.write_html("out.html")
